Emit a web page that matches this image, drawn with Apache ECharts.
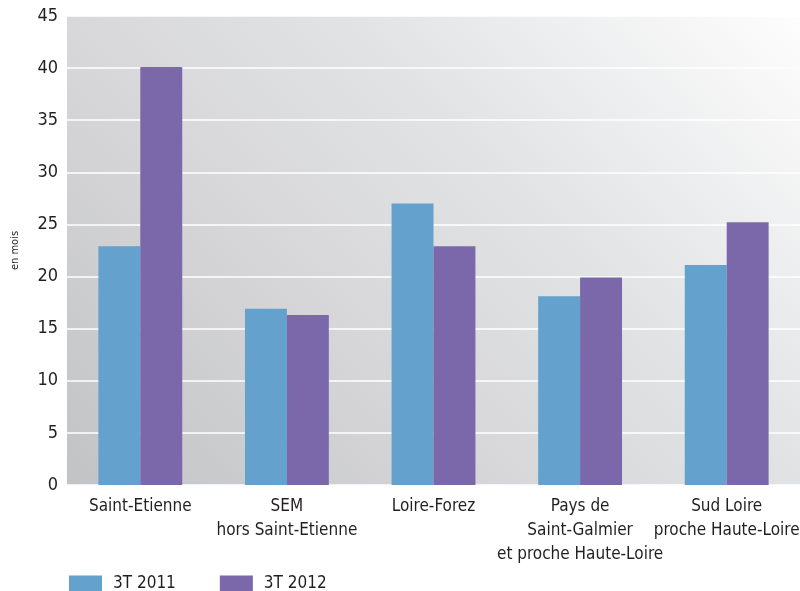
<!DOCTYPE html>
<html>
<head>
<meta charset="utf-8">
<script src="https://cdn.jsdelivr.net/npm/echarts@6/dist/echarts.min.js"></script>
<style>
html,body{margin:0;padding:0;background:#fff;}
#chart{width:800px;height:591px;}
</style>
</head>
<body>
<div id="chart"></div>
<script>
const categories = ['Saint-Etienne', 'SEM\nhors Saint-Etienne', 'Loire-Forez', 'Pays de\nSaint-Galmier\net proche Haute-Loire', 'Sud Loire\nproche Haute-Loire'];
const seriesNames = ['3T 2011', '3T 2012'];
const values2011 = [22.9, 16.9, 27.0, 18.1, 21.1];
const values2012 = [40.1, 16.3, 22.9, 19.9, 25.2];
const yTicks = [0, 5, 10, 15, 20, 25, 30, 35, 40, 45];

const FONT = '"DejaVu Sans Condensed", "DejaVu Sans", sans-serif';
const chart = echarts.init(document.getElementById('chart'), null, {renderer: 'canvas'});
chart.setOption({
  animation: false,
  backgroundColor: '#ffffff',
  textStyle: {fontFamily: FONT, color: '#231f20'},
  grid: {
    left: 67, right: 0, top: 16, bottom: 106,
    containLabel: false,
    outerBoundsMode: 'none',
    show: true, borderWidth: 0,
    backgroundColor: new echarts.graphic.LinearGradient(67, 485, 667.5, -115.5, [
      {offset: 0, color: '#c2c3c5'},
      {offset: 0.39, color: '#d8d8da'},
      {offset: 0.61, color: '#e1e2e4'},
      {offset: 1, color: '#fdfdfd'}
    ], true)
  },
  legend: {
    left: 69, top: 575, padding: 0,
    itemWidth: 33, itemHeight: 16, itemGap: 44,
    icon: 'rect',
    textStyle: {fontFamily: FONT, fontSize: 17, color: '#231f20', padding: [2, 0, 0, 6]},
    data: seriesNames
  },
  xAxis: {
    type: 'category',
    data: categories,
    axisLine: {show: false},
    axisTick: {show: false},
    axisLabel: {fontFamily: FONT, fontSize: 17, color: '#231f20', margin: 10, lineHeight: 24, interval: 0}
  },
  yAxis: {
    type: 'value',
    min: yTicks[0], max: yTicks[yTicks.length - 1], interval: 5,
    name: 'en mois',
    nameLocation: 'middle',
    nameGap: 46,
    nameRotate: 90,
    nameTextStyle: {fontFamily: FONT, fontSize: 11, color: '#231f20'},
    axisLine: {show: false},
    axisTick: {show: false},
    axisLabel: {fontFamily: FONT, fontSize: 18, color: '#231f20', margin: 9},
    splitLine: {show: true, lineStyle: {color: '#ffffff', width: 1.5}}
  },
  series: [
    {name: seriesNames[0], type: 'bar', data: values2011, barWidth: '28.6%', barGap: '0%', itemStyle: {color: '#64a1cc'}},
    {name: seriesNames[1], type: 'bar', data: values2012, barWidth: '28.6%', barGap: '0%', itemStyle: {color: '#7b68aa'}}
  ]
});
</script>
</body>
</html>
